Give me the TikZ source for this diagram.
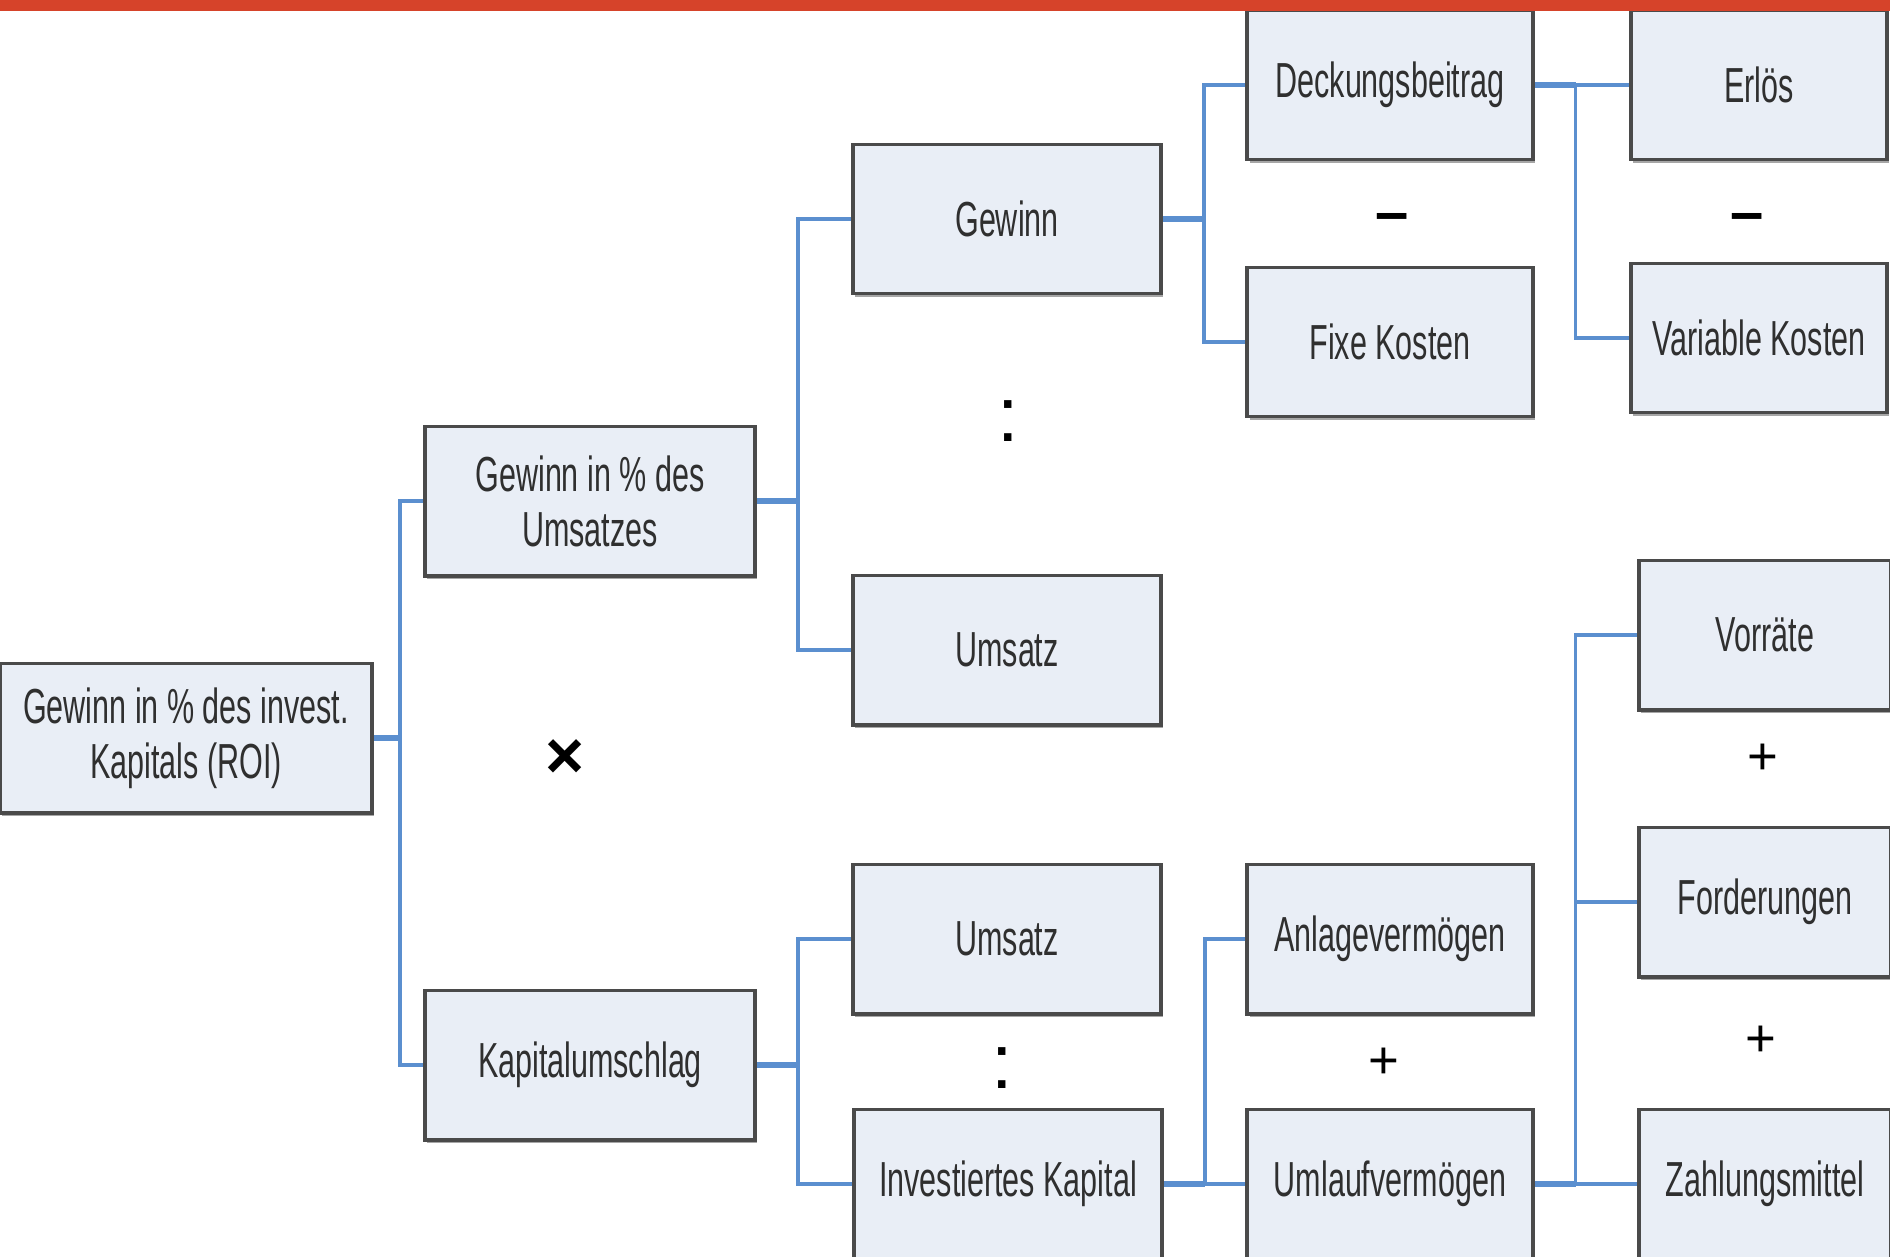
\documentclass[tikz,border=0pt]{standalone}
\usepackage{fontspec}
\setmainfont{Liberation Sans}[FakeStretch=0.62]
\newfontfamily\opfont{Liberation Sans}
\usetikzlibrary{shadows}
\definecolor{boxfill}{HTML}{E9EEF6}
\definecolor{boxline}{HTML}{4A4A4A}
\definecolor{linkblue}{HTML}{5B8FCF}
\definecolor{textgray}{HTML}{2F2F2F}
\definecolor{barred}{HTML}{D6432A}
\definecolor{barlight}{HTML}{E8785A}
\begin{document}
\begin{tikzpicture}[x=0.01cm,y=-0.01cm,
  kbox/.style={draw=boxline,line width=1.1pt,fill=boxfill,text=textgray,
    minimum height=1.49cm,inner sep=0pt,align=center,
    font=\fontsize{14}{15.6}\selectfont,
    drop shadow={shadow xshift=0.6pt,shadow yshift=-0.9pt,opacity=0.35,fill=black}},
  link/.style={draw=linkblue,line width=0.9pt},
  stub/.style={draw=linkblue,line width=1.8pt},
  op/.style={text=black,inner sep=0pt,font=\opfont\fontsize{15}{15}\selectfont}]
\useasboundingbox (0,0) rectangle (1890,1256);
\clip (0,0) rectangle (1890,1256);
\fill[white] (0,0) rectangle (1890,1256);
%
\node[kbox,minimum width=3.72cm] (roi) at (186,738) {Gewinn in \% des invest.\\Kapitals (ROI)};
\node[kbox,minimum width=3.30cm] (gpu) at (590,501) {Gewinn in \% des\\Umsatzes};
\node[kbox,minimum width=3.30cm] (kap) at (590,1065) {Kapitalumschlag};
\node[kbox,minimum width=3.08cm] (gew) at (1007,219) {Gewinn};
\node[kbox,minimum width=3.08cm] (ums1) at (1007,650) {Umsatz};
\node[kbox,minimum width=3.08cm] (ums2) at (1007,939) {Umsatz};
\node[kbox,minimum width=3.08cm] (ik) at (1008,1184) {Investiertes Kapital};
\node[kbox,minimum width=2.85cm] (db) at (1390,85) {Deckungsbeitrag};
\node[kbox,minimum width=2.85cm] (fk) at (1390,342) {Fixe Kosten};
\node[kbox,minimum width=2.56cm] (erl) at (1759,85) {Erlös};
\node[kbox,minimum width=2.56cm] (vk) at (1759,338) {Variable Kosten};
\node[kbox,minimum width=2.85cm] (av) at (1390,939) {Anlagevermögen};
\node[kbox,minimum width=2.85cm] (ulv) at (1390,1184) {Umlaufvermögen};
\node[kbox,minimum width=2.52cm] (vor) at (1765,635) {Vorräte};
\node[kbox,minimum width=2.52cm] (ford) at (1765,902) {Forderungen};
\node[kbox,minimum width=2.52cm] (zm) at (1765,1184) {Zahlungsmittel};
%
\draw[stub] (roi.east) -- ++(26,0) coordinate (b1);
\draw[link] (gpu.west) -| (b1) |- (kap.west);
\draw[stub] (gpu.east) -- ++(41,0) coordinate (b2);
\draw[link] (gew.west) -| (b2) |- (ums1.west);
\draw[stub] (kap.east) -- ++(41,0) coordinate (b3);
\draw[link] (ums2.west) -| (b3) |- (ik.west);
\draw[stub] (gew.east) -- ++(41,0) coordinate (b4);
\draw[link] (db.west) -| (b4) |- (fk.west);
\draw[stub] (db.east) -- ++(41,0) coordinate (b5);
\draw[link] (erl.west) -| (b5) |- (vk.west);
\draw[stub] (ik.east) -- ++(41,0) coordinate (b6);
\draw[link] (av.west) -| (b6) |- (ulv.west);
\draw[stub] (ulv.east) -- ++(41,0) coordinate (b7);
\draw[link] (vor.west) -| (b7) |- (zm.west);
\draw[link] (ford.west) -- (ford.west -| b7);
%
\node[op,font=\opfont\bfseries\fontsize{17}{17}\selectfont] (minus1) at (1392,223) {–};
\node[op,font=\opfont\bfseries\fontsize{17}{17}\selectfont] (minus2) at (1747,223) {–};
\node[op,font=\opfont\fontsize{22}{22}\selectfont] (dots1) at (1008,421) {:};
\node[op,font=\opfont\fontsize{22}{22}\selectfont] (dots2) at (1002,1068) {:};
\node[op,font=\opfont\bfseries\fontsize{19}{19}\selectfont] (times) at (565,759) {×};
\node[op] (plus1) at (1384,1063) {+};
\node[op] (plus2) at (1763,759) {+};
\node[op] (plus3) at (1761,1041) {+};
%
\shade[left color=barred,middle color=barlight,right color=barred] (0,0) rectangle (1890,10);
\end{tikzpicture}
\end{document}
